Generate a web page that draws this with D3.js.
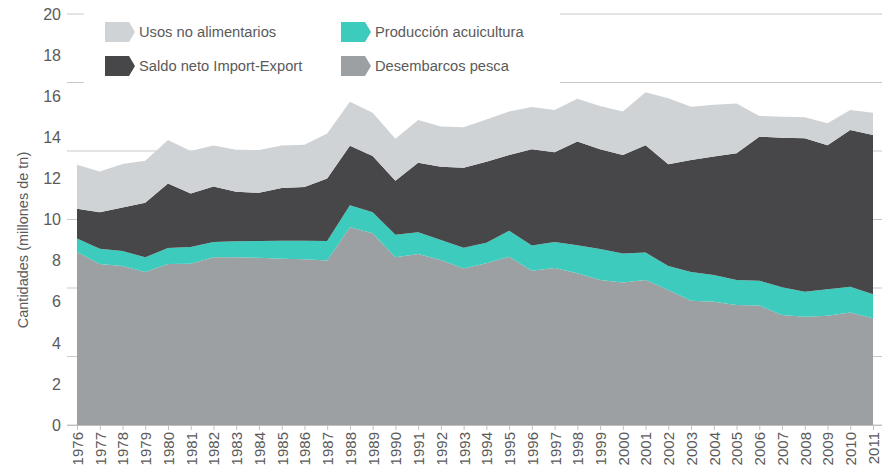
<!DOCTYPE html>
<html>
<head>
<meta charset="utf-8">
<script src="https://cdn.jsdelivr.net/npm/d3@7"></script>
<style>
  body { margin: 0; background: #fff; }
  svg { display: block; font-family: "Liberation Sans", Arial, sans-serif; }
  .lbl { fill: #5a5a5a; }
</style>
</head>
<body>
<div id="app"></div>
<script>
const years = d3.range(1976, 2012);

// valores en millones de tn
const desembarcos = [8.42, 7.83, 7.74, 7.45, 7.83, 7.85, 8.16, 8.16, 8.14, 8.09, 8.06, 8.00,
  9.62, 9.33, 8.16, 8.32, 8.03, 7.61, 7.87, 8.19, 7.51, 7.64, 7.39, 7.06, 6.93, 7.06,
  6.57, 6.05, 6.00, 5.84, 5.81, 5.35, 5.27, 5.32, 5.48, 5.19];
const acuicultura = [0.66, 0.75, 0.73, 0.71, 0.78, 0.81, 0.74, 0.78, 0.81, 0.87, 0.90, 0.95,
  1.07, 1.02, 1.10, 1.06, 0.97, 1.02, 1.00, 1.26, 1.23, 1.26, 1.36, 1.50, 1.42, 1.33,
  1.17, 1.40, 1.30, 1.22, 1.21, 1.35, 1.22, 1.28, 1.25, 1.17];
const saldo = [1.44, 1.77, 2.12, 2.66, 3.14, 2.60, 2.71, 2.41, 2.35, 2.57, 2.62, 3.05,
  2.90, 2.74, 2.63, 3.38, 3.57, 3.89, 3.94, 3.69, 4.68, 4.37, 5.04, 4.86, 4.79, 5.22,
  4.95, 5.45, 5.76, 6.16, 7.01, 7.28, 7.46, 7.01, 7.62, 7.75];
const usos = [2.15, 1.98, 2.11, 2.04, 2.12, 2.07, 1.99, 2.05, 2.08, 2.07, 2.06, 2.19,
  2.14, 2.11, 2.04, 2.08, 1.95, 1.97, 2.06, 2.11, 2.05, 2.06, 2.09, 2.10, 2.11, 2.58,
  3.21, 2.59, 2.53, 2.43, 1.01, 1.02, 1.02, 1.07, 0.98, 1.09];

const yTicks = d3.range(0, 21, 2);
const seriesKeys = ['desembarcos', 'acuicultura', 'saldo', 'usos'];
const seriesNames = {
  usos: 'Usos no alimentarios',
  saldo: 'Saldo neto Import-Export',
  acuicultura: 'Producción acuicultura',
  desembarcos: 'Desembarcos pesca'
};
const colors = {
  desembarcos: '#9da0a3',
  acuicultura: '#3ccbbc',
  saldo: '#474749',
  usos: '#d0d3d6'
};

const W = 893, H = 468;
const svg = d3.select('#app').append('svg').attr('width', W).attr('height', H);

const x = d3.scaleLinear().domain([1976, 2011]).range([77, 873]);
const y = d3.scaleLinear().domain([0, 20]).range([425, 14]);

const table = years.map((yr, i) => ({
  year: yr,
  desembarcos: desembarcos[i],
  acuicultura: acuicultura[i],
  saldo: saldo[i],
  usos: usos[i]
}));
const stacked = d3.stack().keys(seriesKeys)(table);

// grid (6 divisiones)
svg.append('g')
  .selectAll('line')
  .data(d3.range(0, 7).map(i => i * 20 / 6))
  .join('line')
  .attr('x1', 67).attr('x2', 882)
  .attr('y1', d => y(d)).attr('y2', d => y(d))
  .attr('stroke', '#c9c9c9').attr('stroke-width', 1.2);

// x axis
const xAxis = svg.append('g')
  .attr('transform', `translate(0,${y(0)})`)
  .call(d3.axisBottom(x).tickValues(years).tickFormat(d3.format('d')).tickSize(5).tickSizeOuter(0));
xAxis.select('.domain').attr('stroke', '#c0c0c0').attr('d', `M67,0.5H882`);
xAxis.selectAll('.tick line').attr('stroke', '#c0c0c0');
xAxis.selectAll('.tick text')
  .attr('class', 'lbl')
  .attr('font-size', 15)
  .attr('transform', 'rotate(-90)')
  .attr('text-anchor', 'end')
  .attr('x', -7).attr('y', 0).attr('dy', '0.36em');

// areas
const area = d3.area()
  .x(d => x(d.data.year))
  .y0(d => y(d[0]))
  .y1(d => y(d[1]));

svg.append('g')
  .selectAll('path')
  .data(stacked)
  .join('path')
  .attr('fill', d => colors[d.key])
  .attr('d', area);

// y labels
svg.append('g')
  .selectAll('text')
  .data(yTicks)
  .join('text')
  .attr('class', 'lbl')
  .attr('x', 61).attr('y', d => y(d))
  .attr('dy', '0.36em')
  .attr('text-anchor', 'end')
  .attr('font-size', 16)
  .text(d => d);

svg.append('text')
  .attr('class', 'lbl')
  .attr('transform', `translate(28,240) rotate(-90)`)
  .attr('text-anchor', 'middle')
  .attr('font-size', 14.5)
  .text('Cantidades (millones de tn)');

// legend
const legend = svg.append('g');
legend.append('rect').attr('x', 84).attr('y', 0).attr('width', 476).attr('height', 92).attr('fill', '#fff');
const legendItems = [
  { key: 'usos', x: 105, y: 22 },
  { key: 'saldo', x: 105, y: 56 },
  { key: 'acuicultura', x: 341, y: 22 },
  { key: 'desembarcos', x: 341, y: 56 }
];
const li = legend.selectAll('g.item')
  .data(legendItems)
  .join('g')
  .attr('class', 'item')
  .attr('transform', d => `translate(${d.x},${d.y})`);
li.append('path')
  .attr('d', 'M0,0H24L30,10L24,20H0Z')
  .attr('fill', d => colors[d.key]);
li.append('text')
  .attr('class', 'lbl')
  .attr('x', 34).attr('y', 10).attr('dy', '0.36em')
  .attr('font-size', 14.7)
  .text(d => seriesNames[d.key]);
</script>
</body>
</html>
